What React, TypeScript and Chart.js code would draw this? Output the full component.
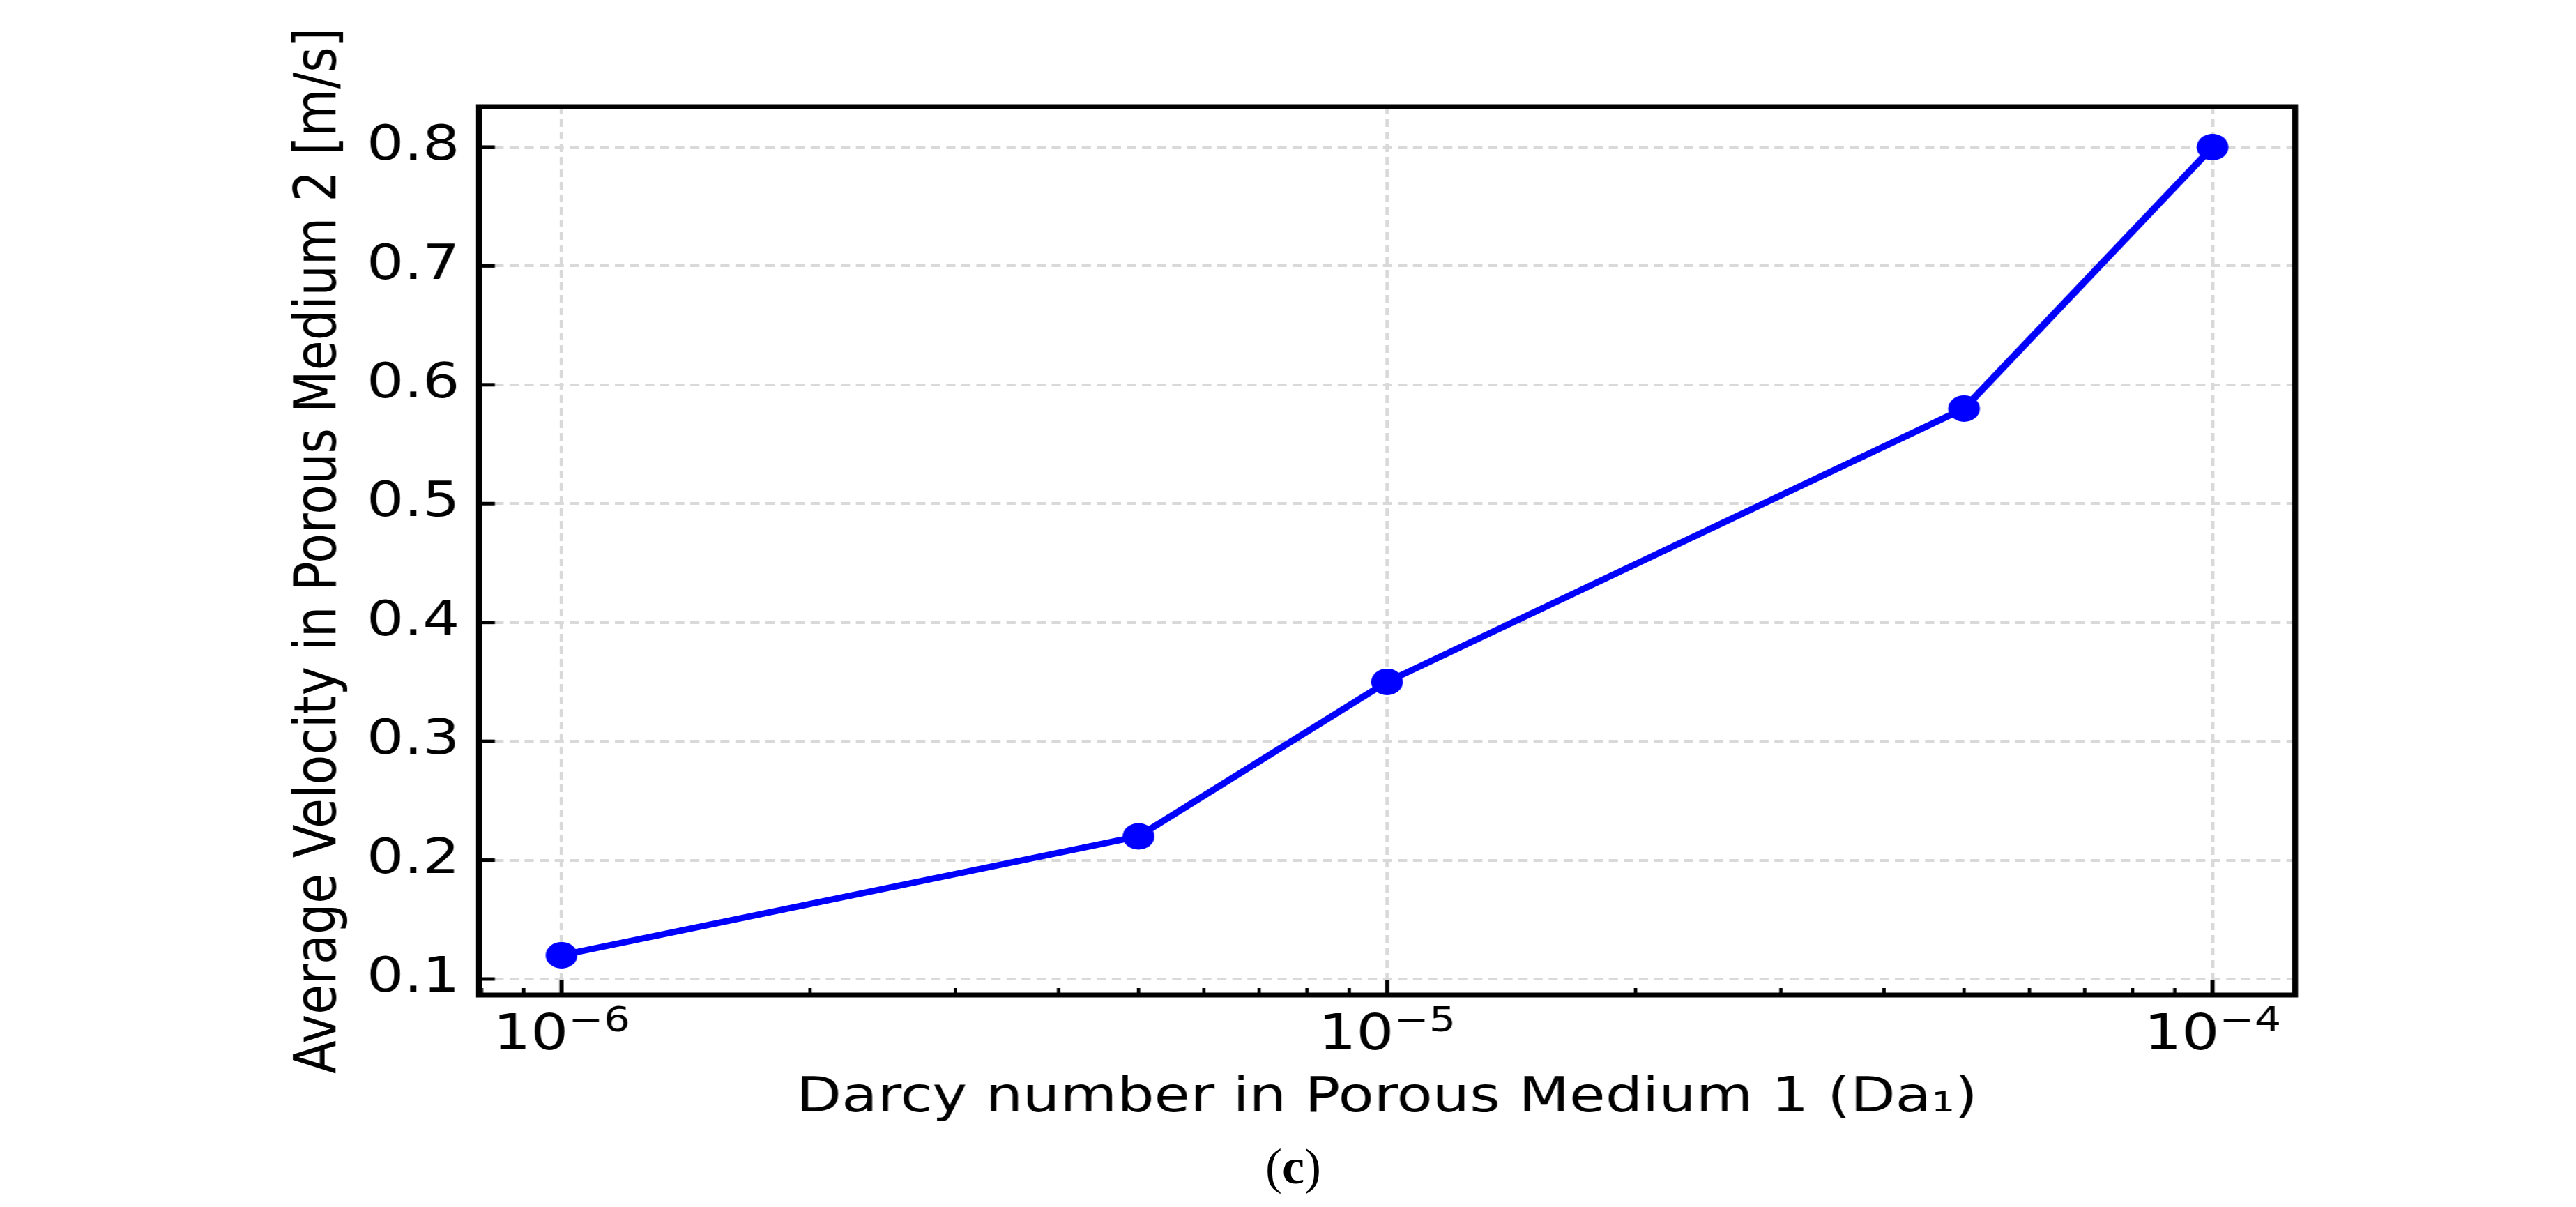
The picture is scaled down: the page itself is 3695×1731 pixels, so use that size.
import { useEffect, useRef } from "react";
import { Chart, registerables, Plugin } from "chart.js";

Chart.register(...registerables);

// data
const darcyNumbers = [1e-6, 5e-6, 1e-5, 5e-5, 1e-4];
const avgVelocity = [0.12, 0.22, 0.35, 0.58, 0.8];

const xMajorTicks = [1e-6, 1e-5, 1e-4];
const xTickBase = ["10", "10", "10"];
const xTickExp = ["−6", "−5", "−4"];
const yTicks = [0.1, 0.2, 0.3, 0.4, 0.5, 0.6, 0.7, 0.8];
const yTickLabels = ["0.1", "0.2", "0.3", "0.4", "0.5", "0.6", "0.7", "0.8"];

const FONT = "'DejaVu Sans', sans-serif";
const W = 3695;
const H = 1731;
// the source figure is stretched sideways, so the canvas is drawn narrower and scaled back
const SX = 1.2;

// inward ticks, full box and mathtext-like x tick labels
const framePlugin: Plugin<"line"> = {
  id: "frame",
  afterDraw(chart) {
    const { ctx, chartArea: a, scales } = chart;
    const xs = scales.x;
    const ys = scales.y;
    const seg = (x1: number, y1: number, x2: number, y2: number) => {
      ctx.beginPath();
      ctx.moveTo(x1, y1);
      ctx.lineTo(x2, y2);
      ctx.stroke();
    };
    ctx.save();
    ctx.strokeStyle = "#000";
    ctx.lineCap = "butt";

    ctx.lineWidth = 5;
    yTicks.forEach((v) => {
      const py = ys.getPixelForValue(v);
      seg(a.left, py, a.left + 19, py);
    });
    xMajorTicks.forEach((v) => {
      const px = xs.getPixelForValue(v);
      seg(px, a.bottom, px, a.bottom - 21);
    });

    ctx.lineWidth = 4;
    for (let e = -7; e <= -4; e++) {
      for (let k = 2; k <= 9; k++) {
        const v = k * Math.pow(10, e);
        if (v <= xs.min || v >= xs.max) continue;
        const px = xs.getPixelForValue(v);
        seg(px, a.bottom, px, a.bottom - 10);
      }
    }

    ctx.lineWidth = 7;
    ctx.strokeRect(a.left, a.top, a.right - a.left, a.bottom - a.top);

    // x tick labels: 10 with a raised exponent
    ctx.fillStyle = "#000";
    ctx.textBaseline = "alphabetic";
    ctx.textAlign = "left";
    xMajorTicks.forEach((v, i) => {
      const px = xs.getPixelForValue(v);
      ctx.font = `71px ${FONT}`;
      const wb = ctx.measureText(xTickBase[i]).width;
      ctx.font = `50px ${FONT}`;
      const we = ctx.measureText(xTickExp[i]).width;
      const x0 = px - (wb + we) / 2;
      ctx.font = `71px ${FONT}`;
      ctx.fillText(xTickBase[i], x0, a.bottom + 78);
      ctx.font = `50px ${FONT}`;
      ctx.fillText(xTickExp[i], x0 + wb, a.bottom + 52);
    });
    ctx.restore();
  },
};

export default function App() {
  const canvasRef = useRef<HTMLCanvasElement | null>(null);
  const chartRef = useRef<Chart | null>(null);

  useEffect(() => {
    if (!canvasRef.current) return;
    if (chartRef.current) chartRef.current.destroy();

    chartRef.current = new Chart(canvasRef.current, {
      type: "line",
      data: {
        datasets: [
          {
            data: darcyNumbers.map((x, i) => ({ x, y: avgVelocity[i] })),
            borderColor: "#0000ff",
            backgroundColor: "#0000ff",
            borderWidth: 9,
            pointRadius: 19,
            pointBorderWidth: 0,
            pointBackgroundColor: "#0000ff",
            tension: 0,
            fill: false,
          },
        ],
      },
      options: {
        animation: false,
        responsive: true,
        maintainAspectRatio: false,
        devicePixelRatio: 1,
        layout: { padding: { left: 340.5, right: 403 / SX, top: 153, bottom: 104 } },
        plugins: {
          legend: { display: false },
          tooltip: { enabled: false },
        },
        scales: {
          x: {
            type: "logarithmic",
            min: Math.pow(10, -6.1),
            max: Math.pow(10, -3.9),
            afterBuildTicks: (scale) => {
              scale.ticks = xMajorTicks.map((value) => ({ value }));
            },
            afterFit: (scale) => {
              scale.height = 200;
            },
            ticks: { display: false, autoSkip: false, maxRotation: 0 },
            grid: { color: "#d9d9d9", lineWidth: 4, drawTicks: false },
            border: { display: false, dash: [11, 7] },
            title: {
              display: true,
              text: "Darcy number in Porous Medium 1 (Da₁)",
              color: "#000",
              font: { family: FONT, size: 70 },
              padding: { top: 0, bottom: 9 },
            },
          },
          y: {
            type: "linear",
            min: 0.0865,
            max: 0.834,
            afterBuildTicks: (scale) => {
              scale.ticks = yTicks.map((value) => ({ value }));
            },
            afterFit: (scale) => {
              scale.width = 687 / SX - 340.5;
            },
            ticks: {
              autoSkip: false,
              padding: 23,
              color: "#000",
              font: { family: FONT, size: 70 },
              callback: (_v, i) => yTickLabels[i],
            },
            grid: { color: "#d9d9d9", lineWidth: 4, drawTicks: false },
            border: { display: false, dash: [11, 7] },
            title: {
              display: true,
              text: "Average Velocity in Porous Medium 2 [m/s]",
              color: "#000",
              font: { family: FONT, size: 70 },
              padding: { top: 0, bottom: 0 },
            },
          },
        },
      },
      plugins: [framePlugin],
    });

    return () => {
      if (chartRef.current) {
        chartRef.current.destroy();
        chartRef.current = null;
      }
    };
  }, []);

  return (
    <div
      style={{
        position: "absolute",
        left: 0,
        top: 0,
        width: W,
        height: H,
        overflow: "hidden",
        background: "#fff",
      }}
    >
      <div
        style={{
          position: "absolute",
          left: 0,
          top: 0,
          width: W / SX,
          height: H,
          transform: `scaleX(${SX})`,
          transformOrigin: "0 0",
        }}
      >
        <canvas ref={canvasRef}></canvas>
      </div>
      <div
        style={{
          position: "absolute",
          left: 1655,
          top: 1637,
          width: 400,
          textAlign: "center",
          fontFamily: "'Liberation Serif', serif",
          fontSize: 72,
          lineHeight: "72px",
          color: "#000",
        }}
      >
        (<b>c</b>)
      </div>
    </div>
  );
}
